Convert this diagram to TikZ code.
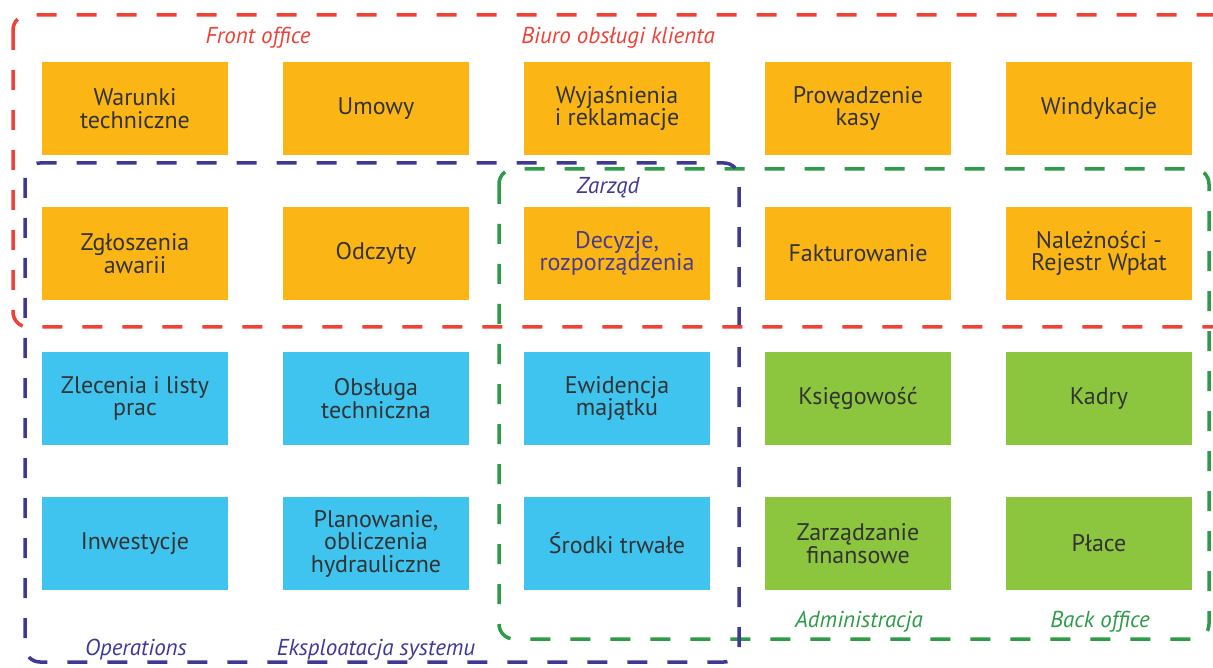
\documentclass[tikz,border=0pt]{standalone}
\usepackage{fontspec}
\setmainfont{PT Sans}
\definecolor{boxorange}{HTML}{FBB616}
\definecolor{boxblue}{HTML}{3FC4F0}
\definecolor{boxgreen}{HTML}{8CC63F}
\definecolor{txtgray}{HTML}{333333}
\definecolor{txtpurple}{HTML}{4A3C8C}
\definecolor{frred}{HTML}{EF4136}
\definecolor{frblue}{HTML}{3E3A94}
\definecolor{frgreen}{HTML}{2E9B48}
\begin{document}
\begin{tikzpicture}[x=1pt,y=-1pt,
  card/.style={minimum width=186pt, minimum height=93pt, inner sep=0pt, align=center,
    text=txtgray, font=\fontsize{24}{22.5}\selectfont},
  orangecard/.style={card, fill=boxorange},
  bluecard/.style={card, fill=boxblue},
  greencard/.style={card, fill=boxgreen},
  frame/.style={line width=3.5pt, dash pattern=on 20pt off 20pt, rounded corners=15pt},
  grouplabel/.style={inner sep=0pt, font=\fontsize{23}{24}\selectfont\itshape}
]
\useasboundingbox (0,0) rectangle (1213,668);
\clip (0,0) rectangle (1213,668);
\fill[white] (0,0) rectangle (1213,668);

% boxes
\node[orangecard] (warunki) at (135,108.5) {Warunki\\techniczne};
\node[orangecard] (umowy) at (376,108.5) {Umowy};
\node[orangecard] (wyjasnienia) at (617,108.5) {Wyjaśnienia\\i reklamacje};
\node[orangecard] (kasa) at (858,108.5) {Prowadzenie\\kasy};
\node[orangecard] (windykacje) at (1099,108.5) {Windykacje};

\node[orangecard] (awarie) at (135,253.5) {Zgłoszenia\\awarii};
\node[orangecard] (odczyty) at (376,253.5) {Odczyty};
\node[orangecard, text=txtpurple] (decyzje) at (617,253.5) {Decyzje,\\rozporządzenia};
\node[orangecard] (faktury) at (858,253.5) {Fakturowanie};
\node[orangecard] (naleznosci) at (1099,253.5) {Należności -\\Rejestr Wpłat};

\node[bluecard] (zlecenia) at (135,398.5) {Zlecenia i listy\\prac};
\node[bluecard] (obsluga) at (376,398.5) {Obsługa\\techniczna};
\node[bluecard] (ewidencja) at (617,398.5) {Ewidencja\\majątku};
\node[greencard] (ksiegowosc) at (858,398.5) {Księgowość};
\node[greencard] (kadry) at (1099,398.5) {Kadry};

\node[bluecard] (inwestycje) at (135,543.5) {Inwestycje};
\node[bluecard] (planowanie) at (376,543.5) {Planowanie,\\obliczenia\\hydrauliczne};
\node[bluecard] (srodki) at (617,543.5) {Środki trwałe};
\node[greencard] (zarzadzanie) at (858,543.5) {Zarządzanie\\finansowe};
\node[greencard] (place) at (1099,543.5) {Płace};

% frames
\draw[frame, frgreen] (499,169) rectangle (1209,639);
\draw[frame, frblue] (25,163) rectangle (739,662);
\draw[frame, frred] (13,15) rectangle (1240,327);

% group labels
\node[grouplabel, text=frred] (lfront) at (258,38) {Front office};
\node[grouplabel, text=frred] (lbiuro) at (618,38) {Biuro obsługi klienta};
\node[grouplabel, text=frblue] (lzarzad) at (608,188) {Zarząd};
\node[grouplabel, text=frblue] (loper) at (136,650) {Operations};
\node[grouplabel, text=frblue] (leksp) at (376,650) {Eksploatacja systemu};
\node[grouplabel, text=frgreen] (ladmin) at (859,622) {Administracja};
\node[grouplabel, text=frgreen] (lback) at (1100,622) {Back office};
\end{tikzpicture}
\end{document}
